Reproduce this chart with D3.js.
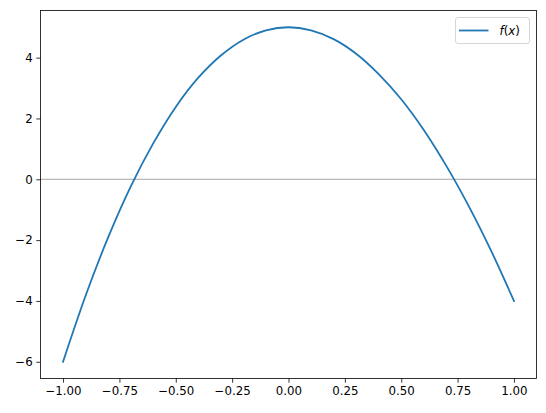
<!DOCTYPE html>
<html><head><meta charset="utf-8">
<script src="https://cdn.jsdelivr.net/npm/d3@7"></script>
<style>
html,body{margin:0;padding:0;background:#fff;}
svg{display:block;}
text{font-family:"DejaVu Sans",sans-serif;}
</style></head>
<body><svg id="c" width="546" height="413"></svg>
<script>
// values
const xValues = [-1.0,-0.9,-0.8,-0.7,-0.6,-0.5,-0.4,-0.3,-0.2,-0.1,0.0,0.1,0.2,0.3,0.4,0.5,0.6,0.7,0.8,0.9,1.0];
const fValues = [-6.0,-3.83,-1.91,-0.24,1.18,2.38,3.34,4.07,4.59,4.90,5.0,4.90,4.61,4.13,3.46,2.63,1.62,0.44,-0.89,-2.37,-4.0];
const xTicks = [-1.0,-0.75,-0.5,-0.25,0.0,0.25,0.5,0.75,1.0];
const yTicks = [-6,-4,-2,0,2,4];
const seriesName = "f(x)";

const svg = d3.select("#c");
const L = 40.5, R = 536.5, T = 10.5, B = 378.5;
const x = d3.scaleLinear().domain([-1.1, 1.1]).range([L, R]);
const y = d3.scaleLinear().domain([-6.55, 5.55]).range([B, T]);
const fs = 11.8;

// zero line
svg.append("line").attr("x1", L).attr("x2", R).attr("y1", y(0)).attr("y2", y(0))
  .attr("stroke", "#808080").attr("stroke-width", 0.7);

// curve
const pts = xValues.map((v, i) => [v, fValues[i]]);
svg.append("path").datum(pts)
  .attr("d", d3.line().x(d => x(d[0])).y(d => y(d[1])).curve(d3.curveCatmullRom.alpha(0.5)))
  .attr("fill", "none").attr("stroke", "#1f77b4").attr("stroke-width", 1.8)
  .attr("stroke-linecap", "square");

// axes
const xa = svg.append("g").attr("transform", `translate(0,${B})`)
  .call(d3.axisBottom(x).tickValues(xTicks).tickSize(4.2).tickPadding(3.6)
    .tickFormat(d => d3.format(".2f")(d).replace("-", "\u2212")));
const ya = svg.append("g").attr("transform", `translate(${L},0)`)
  .call(d3.axisLeft(y).tickValues(yTicks).tickSize(4.2).tickPadding(3.6)
    .tickFormat(d => String(d).replace("-", "\u2212")));
[xa, ya].forEach(g => {
  g.select(".domain").remove();
  g.selectAll("line").attr("stroke", "#000").attr("stroke-width", 0.8);
  g.selectAll("text").attr("font-size", fs).attr("fill", "#000")
    .attr("font-family", "DejaVu Sans");
});

// frame
svg.append("rect").attr("x", L).attr("y", T).attr("width", R - L).attr("height", B - T)
  .attr("fill", "none").attr("stroke", "#000").attr("stroke-width", 0.8);

// legend
const lg = svg.append("g");
lg.append("rect").attr("x", 455.5).attr("y", 17.5).attr("width", 74).attr("height", 26)
  .attr("rx", 2.5).attr("fill", "#fff").attr("fill-opacity", 0.8)
  .attr("stroke", "#cccccc").attr("stroke-width", 0.8);
lg.append("line").attr("x1", 459).attr("x2", 488.5).attr("y1", 30.5).attr("y2", 30.5)
  .attr("stroke", "#1f77b4").attr("stroke-width", 1.8);
const t = lg.append("text").attr("x", 499.5).attr("y", 34.8).attr("font-size", fs)
  .attr("font-family", "DejaVu Sans").attr("fill", "#000");
t.append("tspan").attr("font-style", "italic").text("f");
t.append("tspan").text("(");
t.append("tspan").attr("font-style", "italic").text("x");
t.append("tspan").text(")");
</script></body></html>
